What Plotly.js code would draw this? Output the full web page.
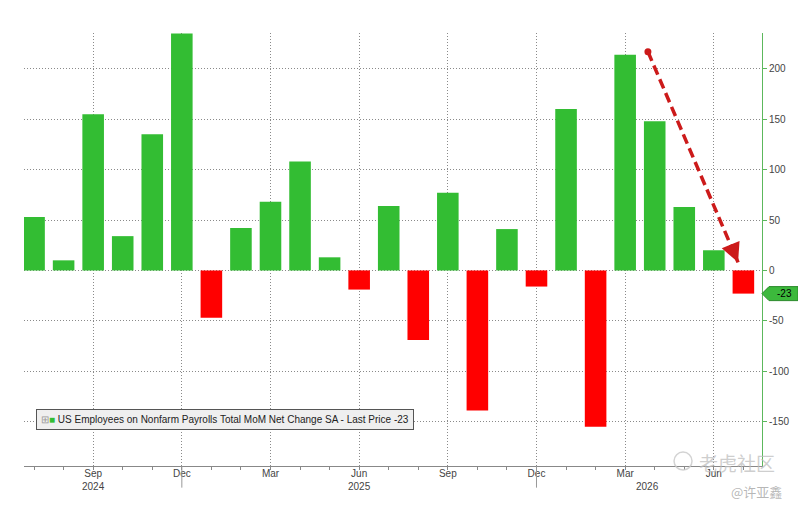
<!DOCTYPE html>
<html><head><meta charset="utf-8">
<script src="https://cdn.plot.ly/plotly-3.0.1.min.js"></script>
<style>html,body{margin:0;padding:0;background:#fff}#chart{width:798px;height:510px}</style>
</head><body><div id="chart"></div>
<script>
const months = ['2024-07','2024-08','2024-09','2024-10','2024-11','2024-12',
  '2025-01','2025-02','2025-03','2025-04','2025-05','2025-06','2025-07','2025-08','2025-09','2025-10','2025-11','2025-12',
  '2026-01','2026-02','2026-03','2026-04','2026-05','2026-06','2026-07'];
const values = [53,10,155,34,135,235,-47,42,68,108,13,-19,64,-69,77,-139,41,-16,160,-155,214,148,63,20,-23];
const tickMonths = ['2024-09','2024-12','2025-03','2025-06','2025-09','2025-12','2026-03','2026-06'];
const tickLabels = ['Sep','Dec','Mar','Jun','Sep','Dec','Mar','Jun'];
const yearLabels = ['2024','2025','2026'];
const yearAnchors = [2, 11, 20.77];
const yearSeparators = ['2024-12','2025-12'];
const yTicks = [-150,-100,-50,0,50,100,150,200];
const seriesName = 'US Employees on Nonfarm Payrolls Total MoM Net Change SA - Last Price';
const arrowStart = [20.77, 217];
const arrowEnd = [23.82, 8];

const GREEN = '#33bd33', RED = '#ff0000', ARROW = '#cc1a1a';
const FONT = 'Liberation Sans, Arial, sans-serif';
const xIdx = months.map((m, i) => i);
const lastValue = values[values.length - 1];

const trace = {
  type: 'bar', x: xIdx, y: values,
  marker: {color: values.map(v => v >= 0 ? GREEN : RED), line: {width: 0}},
  hoverinfo: 'skip', showlegend: false
};

const annotations = [];
yearLabels.forEach((t, i) => annotations.push({
  text: t, x: yearAnchors[i], xref: 'x', y: 0, yref: 'paper', yanchor: 'top', yshift: -13,
  showarrow: false, font: {family: FONT, size: 10, color: '#444'}
}));
annotations.push({
  text: '<span style="color:#999">⊞</span><span style="color:' + GREEN + '">■</span> ' + seriesName + ' ' + lastValue,
  xref: 'paper', yref: 'paper', x: 0.0163, y: 0.1085, xanchor: 'left', yanchor: 'middle',
  showarrow: false, bgcolor: '#efefef', bordercolor: '#555', borderwidth: 1, borderpad: 4,
  font: {family: FONT, size: 10, color: '#222'}
});
annotations.push({
  text: String(lastValue), xref: 'paper', x: 1, xanchor: 'left', xshift: 13, yref: 'y', y: lastValue,
  showarrow: false, font: {family: FONT, size: 10, color: '#000'}
});
annotations.push({
  text: '', x: arrowEnd[0], y: arrowEnd[1], xref: 'x', yref: 'y', ax: -5, ay: -12,
  showarrow: true, arrowhead: 2, arrowsize: 1.1, arrowwidth: 3.5, arrowcolor: ARROW
});
annotations.push({
  text: '老虎社区', xref: 'paper', yref: 'paper', x: 0.966, y: 0.009, xanchor: 'center', yanchor: 'middle',
  showarrow: false, font: {family: 'Noto Sans CJK SC, sans-serif', size: 19, color: 'rgba(190,190,190,0.75)'}
});
annotations.push({
  text: '@许亚鑫', xref: 'paper', yref: 'paper', x: 0.993, y: -0.06, xanchor: 'center', yanchor: 'middle',
  showarrow: false, font: {family: 'Noto Sans CJK SC, sans-serif', size: 13, color: 'rgba(170,170,170,0.85)'}
});

const shapes = [];
yearSeparators.forEach(m => shapes.push({
  type: 'line', xref: 'x', x0: months.indexOf(m), x1: months.indexOf(m), yref: 'paper', y0: 0, y1: -0.05,
  line: {color: '#999', width: 1}
}));
shapes.push({
  type: 'path', xref: 'paper', xsizemode: 'pixel', xanchor: 1, yref: 'y', ysizemode: 'pixel', yanchor: lastValue,
  path: 'M0,0 L7,7 L36,7 L36,-7 L7,-7 Z', fillcolor: '#3cb93c', line: {color: '#2a8a2a', width: 1}
});
shapes.push({
  type: 'line', xref: 'x', yref: 'y', x0: arrowStart[0], y0: arrowStart[1], x1: arrowEnd[0], y1: arrowEnd[1],
  line: {color: ARROW, width: 3.5, dash: '10px,5px'}
});
shapes.push({
  type: 'circle', xref: 'x', yref: 'y', xsizemode: 'pixel', ysizemode: 'pixel',
  xanchor: arrowStart[0], yanchor: arrowStart[1], x0: -3.5, x1: 3.5, y0: -3.5, y1: 3.5,
  fillcolor: ARROW, line: {width: 0}
});
shapes.push({
  type: 'circle', xref: 'paper', yref: 'paper', xsizemode: 'pixel', ysizemode: 'pixel',
  xanchor: 0.893, yanchor: 0.0115, x0: -9, x1: 9, y0: -9, y1: 9,
  line: {color: 'rgba(200,200,200,0.8)', width: 1.5}
});

const layout = {
  width: 798, height: 510,
  margin: {l: 24, r: 36, t: 33, b: 44},
  paper_bgcolor: '#fff', plot_bgcolor: '#fff',
  font: {family: FONT, size: 10, color: '#444'},
  bargap: 0.27, showlegend: false,
  xaxis: {
    range: [-0.34, 24.63], tickmode: 'array',
    tickvals: tickMonths.map(m => months.indexOf(m)), ticktext: tickLabels,
    ticks: 'outside', ticklen: 3, tickcolor: '#888', ticklabelstandoff: -5,
    showgrid: true, gridcolor: '#8a8a8a', griddash: '1px,2px', gridwidth: 1,
    showline: true, linecolor: '#888', linewidth: 1, zeroline: false,
    tickfont: {family: FONT, size: 10, color: '#444'},
    minor: {tick0: 0, dtick: 1, ticks: 'outside', ticklen: 3, tickcolor: '#888', showgrid: false},
    fixedrange: true
  },
  yaxis: {
    side: 'right', range: [-194, 235.5], tickmode: 'array',
    tickvals: yTicks, ticktext: yTicks.map(String),
    ticks: 'outside', ticklen: 4, tickcolor: '#5cb85c',
    showline: true, linecolor: '#5cb85c', linewidth: 1,
    showgrid: true, gridcolor: '#8a8a8a', griddash: '1px,2px', gridwidth: 1, zeroline: false,
    tickfont: {family: FONT, size: 10, color: '#444'}, fixedrange: true
  },
  annotations: annotations, shapes: shapes
};

Plotly.newPlot('chart', [trace], layout, {displayModeBar: false, staticPlot: true});
</script></body></html>
